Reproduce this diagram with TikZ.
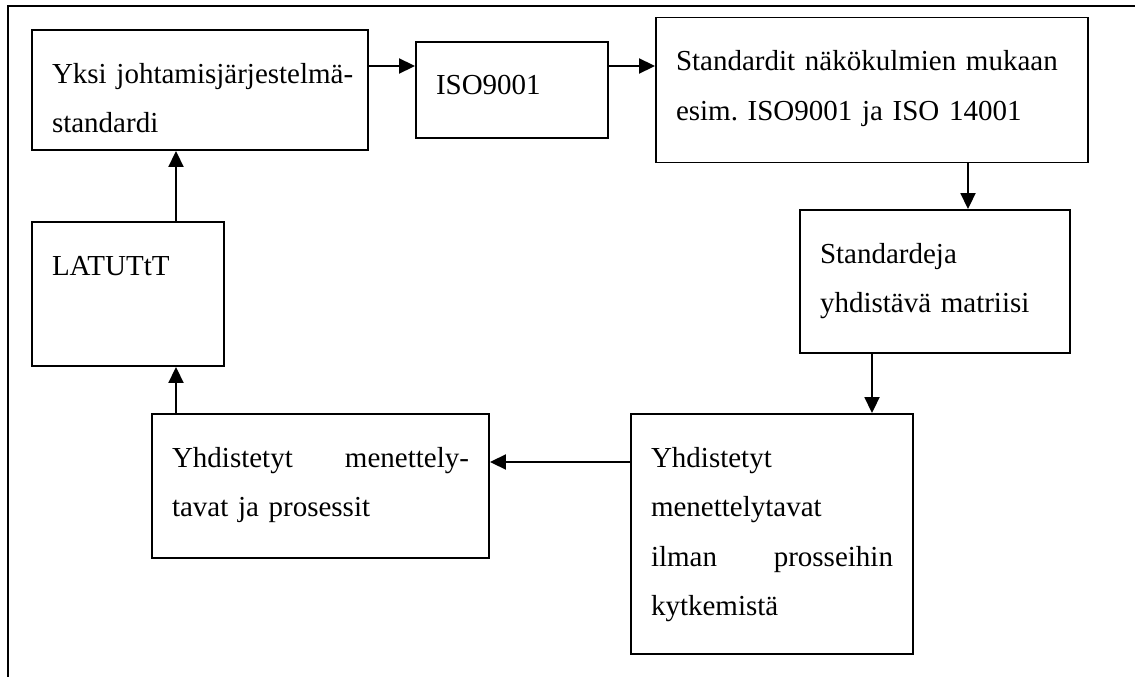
\documentclass[tikz,border=0pt]{standalone}
\usepackage{fontspec}
\setmainfont{Liberation Serif}
\usetikzlibrary{arrows.meta}
\frenchspacing
% a line spread over the full text width
\newcommand{\fullline}[1]{\leavevmode\hbox to\hsize{#1}}

\begin{document}
\begin{tikzpicture}[x=1pt,y=-1pt,
  box/.style={draw, line width=1.9pt, inner xsep=20pt, inner ysep=0pt,
    align=left, text height=53pt, font=\fontsize{29}{49.5}\selectfont},
  arr/.style={line width=1.9pt, -{Triangle[length=16pt,width=15pt]}}]
\useasboundingbox (0,0) rectangle (1135,677);

% open frame: left and top edges only
\draw[line width=1.9pt] (8,677) -- (8,6) -- (1135,6);

% process boxes
\node[box, text width=296pt, text depth=67pt] (A) at (200,90)
  {\mbox{Yksi johtamisjärjestelmä-}\\standardi};
\node[box, text width=152pt, text depth=43pt] (B) at (512,90) {ISO9001};
\node[box, text width=392pt, text depth=92pt] (C) at (872,90)
  {\mbox{Standardit näkökulmien mukaan}\\\mbox{esim.\ ISO9001 ja ISO 14001}};
\node[box, text width=230pt, text depth=90pt] (D) at (935,281.5)
  {Standardeja\\\mbox{yhdistävä matriisi}};
\node[box, text width=242pt, text depth=187pt] (E) at (772,534)
  {Yhdistetyt\\menettelytavat\\\fullline{ilman\hfill prosseihin}\\kytkemistä};
\node[box, text width=297pt, text depth=91pt] (F) at (320.5,486)
  {\fullline{Yhdistetyt\hfill menettely-}\\\mbox{tavat ja prosessit}};
\node[box, text width=152pt, text depth=91pt] (G) at (128,294) {LATUTtT};

% connectors
\draw[arr] ([yshift=24pt]A.east) -- ([yshift=24pt]B.west);
\draw[arr] ([yshift=24pt]B.east) -- ([yshift=24pt]C.west);
\draw[arr] ([xshift=96pt]C.south) -- ([xshift=33pt]D.north);
\draw[arr] ([xshift=-63pt]D.south) -- ([xshift=100pt]E.north);
\draw[arr] ([yshift=72pt]E.west) -- ([yshift=24pt]F.east);
\draw[arr] ([xshift=-144.5pt]F.north) -- ([xshift=48pt]G.south);
\draw[arr] ([xshift=48pt]G.north) -- ([xshift=-24pt]A.south);
\end{tikzpicture}
\end{document}
